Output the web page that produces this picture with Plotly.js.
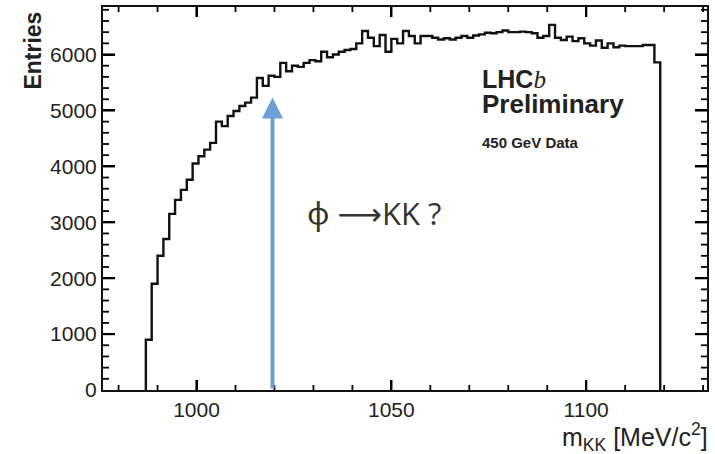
<!DOCTYPE html>
<html><head><meta charset="utf-8">
<script src="https://cdn.plot.ly/plotly-3.0.1.min.js"></script>
<style>html,body{margin:0;padding:0;background:#fff}</style>
</head><body><div id="chart" style="width:715px;height:454px"></div>
<script>
// Histogram definition (MeV/c^2)
const binLowEdge = 987;
const binWidth = 1.5;
// Entries per bin
const entries = [
  900, 1900, 2400, 2700, 3150, 3400, 3580, 3760, 4050, 4180,
  4300, 4420, 4800, 4720, 4900, 4990, 5080, 5140, 5230, 5580,
  5440, 5620, 5600, 5850, 5700, 5800, 5780, 5850, 5900, 5880,
  6050, 5950, 6000, 6050, 6080, 6100, 6200, 6420, 6300, 6150,
  6350, 6050, 6280, 6200, 6420, 6330, 6200, 6330, 6330, 6300,
  6270, 6290, 6270, 6300, 6330, 6300, 6340, 6360, 6390, 6380,
  6400, 6430, 6400, 6400, 6410, 6400, 6380, 6300, 6330, 6530,
  6300, 6260, 6320, 6240, 6290, 6200, 6160, 6250, 6120, 6200,
  6130, 6160, 6150, 6150, 6150, 6170, 6170, 5860
];
const xTickVals = [1000, 1050, 1100];
const xTickText = ["1000", "1050", "1100"];
const xMinorStep = 10;
const yTickVals = [0, 1000, 2000, 3000, 4000, 5000, 6000];
const yTickText = ["0", "1000", "2000", "3000", "4000", "5000", "6000"];
const yMinorStep = 200;
const xRange = [976, 1131];
const yRange = [0, 6850];
const phiMass = 1019.5;
const arrowTip = 5230;

const W = 715, H = 454, M = {l: 103, r: 8, t: 7, b: 64};
const plotW = W - M.l - M.r, plotH = H - M.t - M.b;
const xPerPx = (xRange[1] - xRange[0]) / plotW;
const yPerPx = (yRange[1] - yRange[0]) / plotH;

const edges = entries.map((_, i) => binLowEdge + i * binWidth);
const xs = [binLowEdge].concat(edges, [binLowEdge + entries.length * binWidth]);
const ys = [0].concat(entries, [0]);

const hist = {
  type: 'scatter', mode: 'lines', x: xs, y: ys,
  line: {shape: 'hv', color: '#111', width: 2.4},
  hoverinfo: 'skip', showlegend: false
};

// Inside tick marks on all four sides, placed through the axis scales
function tickTrace(isMajor) {
  const tx = [], ty = [];
  const xStart = Math.ceil(xRange[0] / xMinorStep) * xMinorStep;
  for (let v = xStart; v < xRange[1]; v += xMinorStep) {
    if (xTickVals.includes(v) !== isMajor) continue;
    const len = (isMajor ? 10 : 5) * yPerPx;
    tx.push(v, v, null, v, v, null);
    ty.push(yRange[0], yRange[0] + len, null, yRange[1], yRange[1] - len, null);
  }
  for (let v = yMinorStep; v < yRange[1]; v += yMinorStep) {
    if (yTickVals.includes(v) !== isMajor) continue;
    const len = (isMajor ? 12 : 6) * xPerPx;
    tx.push(xRange[0], xRange[0] + len, null, xRange[1], xRange[1] - len, null);
    ty.push(v, v, null, v, v, null);
  }
  return {type: 'scatter', mode: 'lines', x: tx, y: ty, connectgaps: false,
          line: {color: '#000', width: isMajor ? 2.2 : 1.8}, hoverinfo: 'skip', showlegend: false};
}

const tickFont = {family: 'Liberation Sans, Arial, sans-serif', size: 21, color: '#222'};

const layout = {
  width: W, height: H,
  margin: M,
  paper_bgcolor: '#fff', plot_bgcolor: '#fff',
  showlegend: false,
  xaxis: {
    range: xRange, tickmode: 'array', tickvals: xTickVals, ticktext: xTickText,
    ticks: 'inside', ticklen: 10, tickwidth: 2, tickcolor: '#000',
    showline: true, linecolor: '#111', linewidth: 2, mirror: 'allticks',
    showgrid: false, zeroline: false, tickfont: tickFont
  },
  yaxis: {
    range: yRange, tickmode: 'array', tickvals: yTickVals, ticktext: yTickText,
    ticks: 'inside', ticklen: 12, tickwidth: 2, tickcolor: '#000',
    showline: true, linecolor: '#111', linewidth: 2, mirror: 'allticks',
    showgrid: false, zeroline: false, tickfont: tickFont
  },
  annotations: [
    {xref: 'x', yref: 'y', axref: 'x', ayref: 'y', x: phiMass, y: arrowTip, ax: phiMass, ay: 0,
     text: '', showarrow: true, arrowhead: 2, arrowwidth: 4, arrowsize: 1.05, arrowcolor: '#6b9fd6'},
    {xref: 'paper', yref: 'paper', x: 0.624, y: 0.812, xanchor: 'left', yanchor: 'middle', showarrow: false,
     text: '<b>LHC</b><span style="font-family:Liberation Serif"><i>b</i></span>',
     font: {family: 'Liberation Sans, Arial, sans-serif', size: 25, color: '#222'}},
    {xref: 'paper', yref: 'paper', x: 0.624, y: 0.747, xanchor: 'left', yanchor: 'middle', showarrow: false,
     text: '<b>Preliminary</b>',
     font: {family: 'Liberation Sans, Arial, sans-serif', size: 26, color: '#222'}},
    {xref: 'paper', yref: 'paper', x: 0.624, y: 0.645, xanchor: 'left', yanchor: 'middle', showarrow: false,
     text: '<b>450 GeV Data</b>',
     font: {family: 'Liberation Sans, Arial, sans-serif', size: 15, color: '#222'}},
    {xref: 'paper', yref: 'paper', x: 0.334, y: 0.462, xanchor: 'left', yanchor: 'middle', showarrow: false,
     text: 'ϕ <span style="font-family:DejaVu Sans">⟶</span>KK ?',
     font: {family: 'Open Sans, Noto Sans, sans-serif', size: 31, color: '#333'}},
    {xref: 'paper', yref: 'paper', x: -0.116, y: 0.993, xanchor: 'center', yanchor: 'top', showarrow: false,
     textangle: -90, text: '<b>Entries</b>',
     font: {family: 'Liberation Sans, Arial, sans-serif', size: 23, color: '#222'}},
    {xref: 'paper', yref: 'paper', x: 1.005, y: -0.124, xanchor: 'right', yanchor: 'middle', showarrow: false,
     text: 'm<sub>KK</sub> [MeV/c<sup>2</sup>]',
     font: {family: 'Liberation Sans, Arial, sans-serif', size: 25, color: '#222'}}
  ]
};

Plotly.newPlot('chart', [tickTrace(false), tickTrace(true), hist], layout, {displayModeBar: false});
</script>
</body></html>
